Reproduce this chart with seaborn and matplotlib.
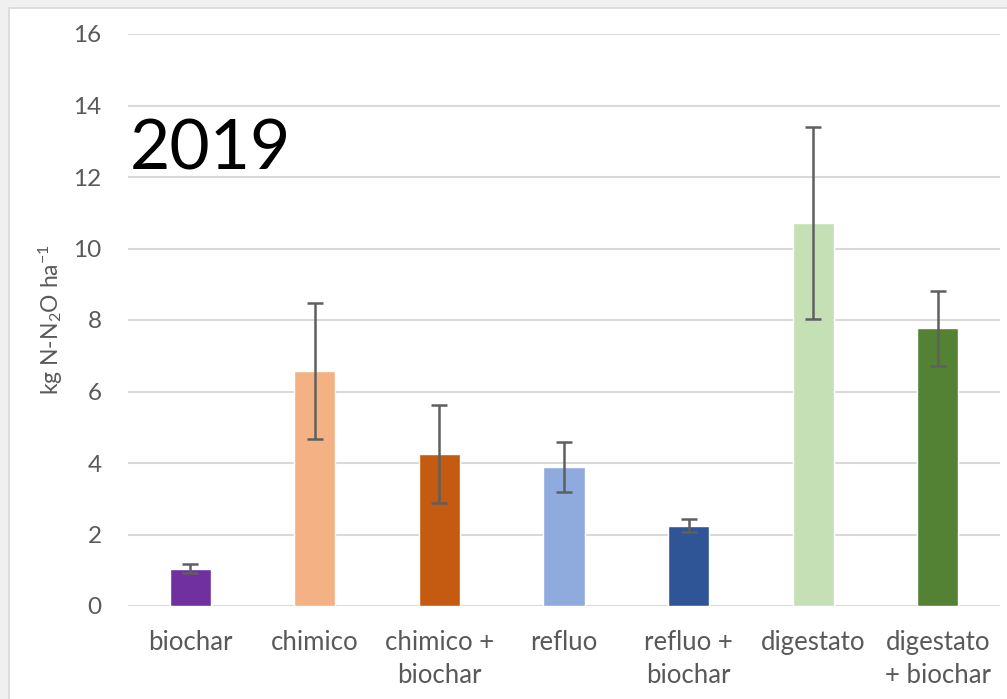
import matplotlib
matplotlib.use("Agg")
import matplotlib.pyplot as plt
import matplotlib.patches as mpatches
import seaborn as sns
import pandas as pd

# Treatments, mean N2O emissions and their error (±)
categories = ["biochar", "chimico", "chimico +\nbiochar", "refluo",
              "refluo +\nbiochar", "digestato", "digestato\n+ biochar"]
emissions = [1.04, 6.58, 4.25, 3.90, 2.25, 10.72, 7.77]
errors = [0.13, 1.90, 1.36, 0.70, 0.18, 2.68, 1.05]
colors = ["#7030a0", "#f4b183", "#c55a11", "#8faadc",
          "#2f5597", "#c5e0b4", "#548235"]
y_ticks = [0, 2, 4, 6, 8, 10, 12, 14, 16]

sns.set_theme(style="white")
plt.rcParams["font.family"] = ["Lato", "DejaVu Sans"]
plt.rcParams["mathtext.default"] = "regular"

df = pd.DataFrame({"trattamento": categories, "N2O": emissions})

fig = plt.figure(figsize=(10.07, 6.99), dpi=100)
fig.patch.set_facecolor("#f0f0f0")
# white chart panel with a thin border, kept behind the axes
panel = mpatches.Rectangle((9 / 1007, -0.01), 1.0, 1 - 8 / 699 + 0.01,
                           transform=fig.transFigure, facecolor="white",
                           edgecolor="#d9d9d9", linewidth=1.2, zorder=-10)
fig.patches.append(panel)

ax = fig.add_axes([128 / 1007, 1 - 606 / 699, 872 / 1007, (606 - 34) / 699])
ax.set_facecolor("none")
ax.set_zorder(5)

sns.barplot(data=df, x="trattamento", y="N2O", hue="trattamento",
            palette=colors, width=0.33, legend=False, ax=ax, zorder=3,
            errorbar=None, saturation=1)
ax.errorbar(range(len(categories)), emissions, yerr=errors, fmt="none",
            ecolor="#5f5f5f", elinewidth=1.8, capsize=6, capthick=1.8,
            zorder=4)

ax.set_ylim(0, 16)
ax.set_xlim(-0.5, len(categories) - 0.5)
ax.set_yticks(y_ticks)
ax.yaxis.grid(True, color="#d9d9d9", linewidth=1.5, zorder=0)
ax.set_axisbelow(True)
for s in ax.spines.values():
    s.set_visible(False)

ax.tick_params(axis="y", length=0, pad=19, labelsize=17.5, labelcolor="#595959")
ax.tick_params(axis="x", length=0, pad=17, labelsize=18.5, labelcolor="#595959")
for lbl in ax.get_xticklabels():
    lbl.set_linespacing(1.4)

ax.set_xlabel("")
ax.set_ylabel("kg N-N$_2$O ha$^{-1}$", fontsize=16.5, color="#595959",
              labelpad=6)

fig.text(130 / 1007, 1 - 170 / 699, "2019", fontsize=50, color="black",
         fontweight="normal", ha="left", va="baseline", zorder=10)

fig.savefig("out.png", dpi=100, facecolor=fig.get_facecolor())
